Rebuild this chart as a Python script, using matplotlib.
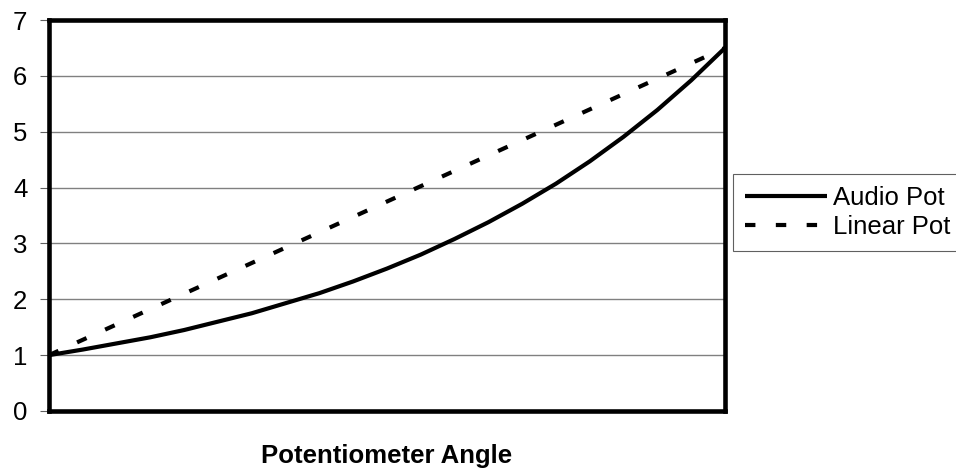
import numpy as np
import matplotlib
matplotlib.use('Agg')
import matplotlib.pyplot as plt

plt.rcParams['font.family'] = ['Liberation Sans', 'DejaVu Sans']

# potentiometer rotation, percent of full travel
angle = [0, 5, 10, 15, 20, 25, 30, 35, 40, 45, 50,
         55, 60, 65, 70, 75, 80, 85, 90, 95, 100]
audio_pot = [1.0, 1.10, 1.21, 1.32, 1.45, 1.60, 1.75, 1.93, 2.11, 2.32, 2.55,
             2.80, 3.08, 3.38, 3.71, 4.07, 4.47, 4.91, 5.39, 5.92, 6.5]
linear_angle = [0, 100]
linear_pot = [1.0, 6.5]
yticks = [0, 1, 2, 3, 4, 5, 6, 7]

fig = plt.figure(figsize=(9.56, 4.75), dpi=100)
ax = fig.add_axes([49 / 956, 1 - 411 / 475, (725 - 49) / 956, (411 - 20) / 475])

ax.plot(angle, audio_pot, color='black', lw=3.0, label='Audio Pot',
        solid_capstyle='butt', zorder=3)
ax.plot(linear_angle, linear_pot, color='black', lw=3.0, label='Linear Pot',
        linestyle=(0, (2.5, 4.9)), dash_capstyle='butt', zorder=3)

ax.set_xlim(0, 100)
ax.set_ylim(0, 7)
ax.set_yticks(yticks)
ax.set_xticks([])
ax.yaxis.grid(True, color='#808080', lw=1.0, zorder=1)
ax.set_axisbelow(True)
ax.tick_params(axis='y', direction='out', length=6.5, width=0.8, color='#606060',
               pad=9, labelsize=18.5, labelcolor='black')
for sp in ax.spines.values():
    sp.set_linewidth(3.3)
    sp.set_color('black')

ax.set_xlabel('Potentiometer Angle', fontsize=18.5, fontweight='bold', labelpad=24)

leg = fig.legend(loc='center left', bbox_to_anchor=(733 / 956, 1 - 212.5 / 475),
                 fontsize=18.5, frameon=True, fancybox=False, shadow=False,
                 handlelength=3.2, handletextpad=0.25, borderpad=0.45,
                 labelspacing=0.22, borderaxespad=0.0)
leg.get_frame().set_edgecolor('#606060')
leg.get_frame().set_linewidth(0.8)
leg.get_frame().set_alpha(1)

fig.savefig('out.png', dpi=100)
